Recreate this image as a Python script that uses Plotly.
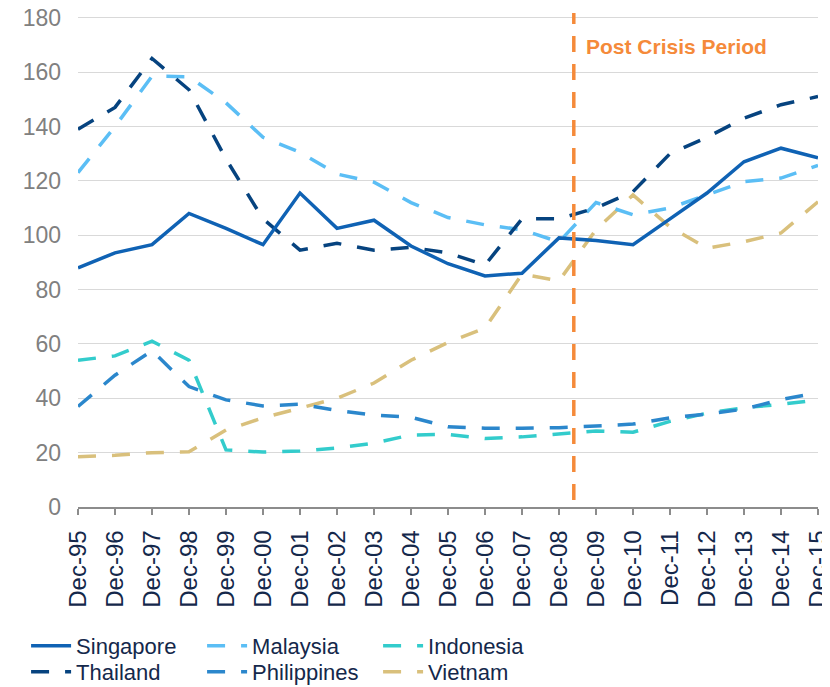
import plotly.graph_objects as go

years = ["Dec-95","Dec-96","Dec-97","Dec-98","Dec-99","Dec-00","Dec-01","Dec-02","Dec-03","Dec-04",
         "Dec-05","Dec-06","Dec-07","Dec-08","Dec-09","Dec-10","Dec-11","Dec-12","Dec-13","Dec-14","Dec-15"]

singapore   = [88, 93.5, 96.5, 108, 102.5, 96.5, 115.5, 102.5, 105.5, 96, 89.5, 85, 86, 99, 98, 96.5, 106, 115.5, 127, 132, 128.5]
thailand    = [139, 147, 165, 153.5, 128, 106, 94.5, 97, 94.5, 95.5, 93.5, 89, 106, 106, 110, 116, 130, 136, 143, 148, 151]
malaysia    = [123, 140, 158.5, 158.3, 148.7, 136, 130.5, 122.5, 119.5, 112, 106.5, 103.8, 102, 97.5, 112, 107.5, 110, 115, 119.7, 121, 125.7]
philippines = [37, 48.5, 57.5, 44.3, 39.4, 37.2, 37.8, 35.5, 33.8, 33, 29.5, 29, 29, 29.2, 29.8, 30.5, 32.8, 34.2, 36, 39.5, 42]
indonesia   = [54, 55.6, 61, 54, 21, 20.2, 20.6, 21.7, 23.5, 26.5, 26.7, 25.2, 25.8, 26.8, 28, 27.5, 31.5, 34.5, 36.5, 37.8, 39.4]
vietnam     = [18.5, 19, 20, 20.3, 28.3, 32.8, 36.4, 40, 45.6, 54, 60.5, 65.8, 85.7, 83.2, 102, 114.8, 103, 95.2, 97.6, 100.8, 112.3]

crisis_x = 13.4
y_ticks = [0, 20, 40, 60, 80, 100, 120, 140, 160, 180]

xs = list(range(len(years)))

row1 = [("Singapore", singapore, "#0F62B4", "solid"),
        ("Malaysia", malaysia, "#5BBEF5", "18px,16px"),
        ("Indonesia", indonesia, "#33CCCC", "18px,16px")]
row2 = [("Thailand", thailand, "#06437F", "18px,16px"),
        ("Philippines", philippines, "#2B87CC", "18px,16px"),
        ("Vietnam", vietnam, "#D9C07C", "18px,16px")]

fig = go.Figure()
draw = [row2[2], row1[2], row2[1], row1[1], row2[0], row1[0]]
leg_of = {n: "legend" for n, *_ in row1}
leg_of.update({n: "legend2" for n, *_ in row2})
order = {n: i for i, (n, *_) in enumerate(row1 + row2)}
for name, vals, col, dash in draw:
    fig.add_trace(go.Scatter(
        x=xs, y=vals, mode="lines", name=name,
        line=dict(color=col, width=3.5, dash=dash),
        legend=leg_of[name], legendrank=order[name]))

fig.add_shape(type="line", xref="x", yref="paper", x0=crisis_x, x1=crisis_x,
              y0=0.014, y1=1.004, line=dict(color="#F58A3A", width=3.5, dash="16px,12px"))
fig.add_annotation(x=crisis_x + 0.28, y=0.935, xref="x", yref="paper", text="<b>Post Crisis Period</b>",
                   showarrow=False, xanchor="left", yanchor="middle",
                   font=dict(family="Liberation Sans, Arial", size=21, color="#F58A3A"))

legfont = dict(family="Liberation Sans, Arial", size=22, color="#14284B")
legcommon = dict(orientation="h", xref="container", yref="container", x=0.022, xanchor="left",
                 yanchor="middle", entrywidth=121, font=legfont, bgcolor="rgba(0,0,0,0)",
                 traceorder="normal", itemwidth=40, tracegroupgap=0)
fig.update_layout(
    width=822, height=679,
    margin=dict(l=70, r=12, t=7, b=180, autoexpand=False),
    plot_bgcolor="white", paper_bgcolor="white",
    showlegend=True,
    legend=dict(y=0.0604, **legcommon),
    legend2=dict(y=0.0221, **legcommon),
    xaxis=dict(range=[-0.0001, 20.0001], tickmode="array", tickvals=xs, ticktext=years,
               tickangle=-90, showgrid=False, showline=True, linecolor="#8C8C8C", linewidth=1.5,
               ticks="outside", ticklen=6, tickcolor="#8C8C8C", tickwidth=1.5,
               tickfont=dict(family="Liberation Sans, Arial", size=24, color="#14284B"),
               zeroline=False, ticklabelstandoff=6, automargin=False,
               ticklabeloverflow="allow"),
    yaxis=dict(range=[0, 181], tickvals=y_ticks, showgrid=True, gridcolor="#D9D9D9", gridwidth=1,
               zeroline=False, showline=False, automargin=False, ticklabeloverflow="allow",
               tickfont=dict(family="Liberation Sans, Arial", size=23, color="#808080"),
               ticklabelstandoff=16),
)

fig.write_html("out.html")
